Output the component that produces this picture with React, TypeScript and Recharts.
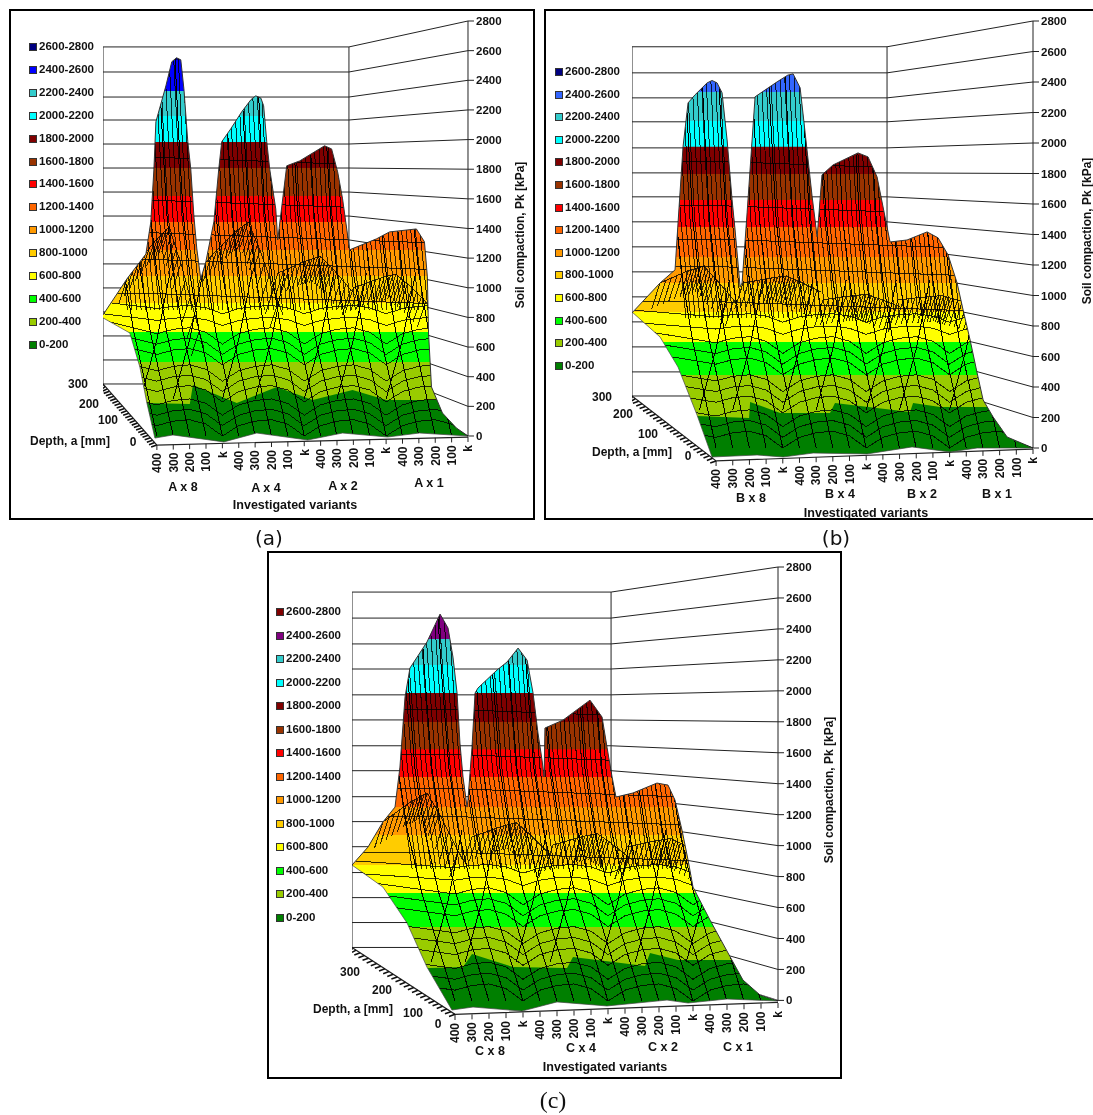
import { Area, ComposedChart, Line, XAxis, YAxis } from "recharts";

const FONT = "'Liberation Sans', Arial, sans-serif";

const tickLabels = ["400", "300", "200", "100", "k", "400", "300", "200", "100", "k", "400", "300", "200", "100", "k", "400", "300", "200", "100", "k"];
const tickPositions = [0, 1, 2, 3, 4, 5, 6, 7, 8, 9, 10, 11, 12, 13, 14, 15, 16, 17, 18, 19];
const pressureTicks = [0, 200, 400, 600, 800, 1000, 1200, 1400, 1600, 1800, 2000, 2200, 2400, 2600, 2800];
const bandNames = ["0-200", "200-400", "400-600", "600-800", "800-1000", "1000-1200", "1200-1400", "1400-1600", "1600-1800", "1800-2000", "2000-2200", "2200-2400", "2400-2600", "2600-2800"];
const baseColors = ["#007f00", "#99cc00", "#00ff00", "#ffff00", "#ffcc00", "#ff9900", "#ff6600", "#ff0000", "#993300", "#800000", "#00ffff", "#33cccc"];
const depthTicks = [0, 12, 24, 36, 48, 60, 72, 84, 96, 108, 120, 132, 144, 156, 168, 180, 192, 204, 216, 228, 240, 252, 264, 276, 288, 300];

// surface outline
const topPosA = [-3.29, -1.83, -0.67, -0.37, -0.18, -0.06, 0.55, 0.91, 1.2, 1.46, 1.65, 1.89, 2.07, 2.26, 2.44, 2.68, 2.99, 3.48, 3.78, 3.96, 4.51, 5.18, 5.75, 6.04, 6.35, 6.52, 6.71, 6.89, 7.26, 7.38, 7.93, 8.72, 10.24, 10.67, 11.04, 11.34, 11.77, 13.41, 14.21, 15.85, 16.34, 16.52, 16.59, 16.77, 17.44, 18.29, 19];
const topValA = [817, 1060, 1228, 1445, 1802, 2120, 2362, 2525, 2552, 2538, 2342, 1985, 1802, 1485, 1262, 1060, 1175, 1445, 1802, 1985, 2072, 2187, 2270, 2295, 2280, 2228, 1985, 1802, 1532, 1323, 1823, 1856, 1958, 1937, 1782, 1600, 1256, 1330, 1377, 1397, 1310, 1073, 695, 331, 155, 54, 0];
const basePosA = [-3.29, -1.65, -1.04, -0.61, -0.12, 0.98, 4.09, 6.1, 9.21, 11.34, 14.09, 16.04, 19];
const baseValA = [797, 695, 466, 223, -14, 7, -40, 20, -27, 20, -7, 20, 0];
const lowPosA = [-3.29, -0.61, 2.01, 2.2, 4.88, 7.32, 9.51, 11.95, 14.02, 17.26, 19];
const lowValA = [223, 223, 216, 344, 223, 331, 243, 310, 243, 243, 243];
const edgesA = [499, 702, 897, 1080, 1255, 1444, 1619, 1808, 1984, 2159, 2328, 2537, 2800];
const wallA = [351, 513, 675, 837, 999, 1161, 1323, 1484, 1646, 1808, 1970, 2132, 2287, 2456, 2625];
const ridgesA = [[-1.83, 1060, 1.9], [2.99, 1175, 1.45], [7.4, 1100, 0.6], [12, 1000, 0.5]];

// panel (b)
const topPosB = [-5.04, -3.36, -2.46, -2.28, -1.98, -1.68, -1.26, -0.54, -0.24, 0.06, 0.36, 0.66, 0.96, 1.14, 1.44, 1.56, 1.86, 2.16, 2.34, 3.66, 4.3, 4.62, 5.04, 5.34, 5.76, 6.06, 6.35, 7.01, 8.51, 9.11, 9.65, 10.13, 10.43, 11.45, 12.65, 13.31, 13.91, 14.45, 14.81, 15.23, 15.65, 16.01, 16.61, 17.45, 19];
const topValB = [886, 1082, 1168, 1476, 1975, 2263, 2316, 2394, 2410, 2394, 2329, 2020, 1627, 1430, 1056, 1082, 1542, 2020, 2303, 2401, 2445, 2453, 2362, 2066, 1647, 1384, 1791, 1856, 1935, 1909, 1778, 1515, 1351, 1364, 1417, 1378, 1266, 1082, 905, 708, 492, 315, 203, 72, 0];
const basePosB = [-5.04, -3.36, -2.28, -1.14, -0.24, 2.46, 4.02, 5.82, 9.05, 11.75, 14.03, 15.65, 19];
const baseValB = [892, 728, 531, 216, -59, -46, -59, -33, -39, 7, -26, 0, 0];
const lowPosB = [-5.04, -1.14, 1.98, 2.04, 3.84, 6.83, 7.13, 11.63, 11.81, 13.43, 16.25, 19];
const lowValB = [210, 210, 197, 302, 230, 230, 295, 236, 295, 269, 269, 269];
const edgesB = [479, 695, 892, 1082, 1253, 1450, 1627, 1797, 1975, 2145, 2335, 2600, 2800];
const wallB = [341, 499, 663, 827, 991, 1155, 1319, 1483, 1647, 1804, 1968, 2139, 2296, 2460, 2631];
const ridgesB = [[-3.36, 1082, 0.6], [1.62, 1082, 0.25], [6.41, 971, 0.2], [10.9, 971, 0.15]];

// panel (c)
const topPosC = [-6.06, -5.12, -4.24, -3.53, -3.24, -2.94, -2.65, -1.65, -0.88, -0.41, -0.12, 0.12, 0.29, 0.47, 0.71, 0.76, 1, 1.18, 1.35, 2.47, 3.06, 3.71, 4.24, 4.59, 4.88, 5.12, 5.24, 5.29, 6.35, 7.94, 8.65, 8.94, 9.24, 9.47, 10.47, 11.88, 12.53, 12.94, 13.35, 13.71, 14, 15, 16.06, 16.94, 17.94, 19];
const topValC = [877, 993, 1155, 1251, 1509, 1961, 2148, 2316, 2496, 2406, 2219, 1987, 1664, 1445, 1251, 1296, 1638, 1987, 2019, 2135, 2187, 2277, 2199, 1987, 1729, 1554, 1445, 1761, 1812, 1941, 1832, 1638, 1445, 1316, 1342, 1406, 1393, 1296, 1103, 909, 735, 522, 310, 135, 39, 0];
const basePosC = [-6.06, -4.24, -2.82, -1.65, -0.18, 1.06, 3.94, 6, 8.94, 12.47, 13.71, 16, 19];
const baseValC = [877, 735, 503, 219, -58, -39, -65, -6, -32, 6, -13, 13, 0];
const lowPosC = [-6.06, -1.47, 0.47, 1, 3.41, 6.59, 6.94, 11.18, 11.47, 13.12, 16.18, 19];
const lowValC = [213, 213, 219, 303, 219, 213, 284, 226, 310, 264, 264, 264];
const edgesC = [477, 697, 877, 1071, 1251, 1445, 1625, 1800, 1987, 2167, 2335, 2700, 2800];
const wallC = [342, 503, 664, 826, 993, 1155, 1316, 1484, 1645, 1812, 1974, 2141, 2303, 2470, 2638];
const ridgesC = [[-4.24, 1155, 1], [1, 1058, 0.5], [5.76, 1006, 0.4], [10.1, 993, 0.3]];

// wire mesh templates shared by the panels
const meshV = [0, 350, 700, 1100, 1500, 2100, 2800];
const meshDx = [0, -0.7, -1.4, -2, -2.4, -2.7, -3];
const hatchV = [850, 1500, 2100, 2800];
const hatchDx = [-1.8, -2.4, -2.7, -3];
const hatchSlots = [0, 0.28, 0.56, 0.84, 1.12, 1.4, 1.68, 1.96, 2.24, 2.52, 2.8, 3.08, 3.36, 3.64, 3.92, 4.2, 4.48, 4.76];
const crossV = [250, 650, 1100];
const crossDx = [0, 1, 1.8];
const rowLevels = [50, 120, 190, 280, 350, 420, 530, 600, 670, 770, 850, 960, 1190, 1370, 1590, 1880];
const rowWiggle = [20, 50, 60, 30, -50];
const ridgeDx = [0, 1.7, 2.6, 3.3, 4.7];
const ridgeRise = [0, 135, 186, 55, -246];

type Row = { x: number; v: number | null };

const gap = (x: number): Row => ({ x, v: null });

function lerpAt(xs: number[], ys: number[], x: number) {
  for (let i = 1; i < xs.length; i++) {
    if (x <= xs[i]) return ys[i - 1] + ((ys[i] - ys[i - 1]) * (x - xs[i - 1])) / (xs[i] - xs[i - 1]);
  }
  return ys[ys.length - 1];
}

function buildWire(lean: number, xMin: number, ridges: number[][]) {
  const cols: Row[] = [];
  const cross: Row[] = [];
  const rows: Row[] = [];
  const hatch: Row[] = [];
  const fans: Row[] = [];
  tickPositions.forEach((p) => {
    meshV.forEach((v, k) => cols.push({ x: Math.max(xMin, p + meshDx[k] * lean), v }));
    cols.push(gap(p));
    if ((p % 5 === 0 || p % 5 === 2) && p < 17) {
      crossV.forEach((v, k) => cross.push({ x: p + crossDx[k] - lean, v }));
      cross.push(gap(p));
    }
    if (p % 5 === 0) {
      hatchSlots.forEach((s) => {
        hatchV.forEach((v, k) => hatch.push({ x: Math.min(19, p + s + hatchDx[k] * lean), v }));
        hatch.push(gap(p));
      });
    }
  });
  rowLevels.forEach((level) => {
    const swing = level < 700 ? 1 : level < 900 ? 0.5 : 0;
    rows.push({ x: xMin, v: level + 110 * swing });
    tickPositions.forEach((p) => rows.push({ x: p, v: level + rowWiggle[p % 5] * swing - (swing ? 0 : p * 4) }));
    rows.push(gap(19));
  });
  ridges.forEach(([pos, val, scale]) => {
    ridgeDx.forEach((dx, k) => fans.push({ x: pos + dx, v: val + ridgeRise[k] * scale }));
    fans.push(gap(pos));
    for (let k = 0; k < ridgeDx.length - 1; k++) {
      [0, 0.2, 0.4, 0.6, 0.8].forEach((t) => {
        const x = pos + ridgeDx[k] + (ridgeDx[k + 1] - ridgeDx[k]) * t;
        const v = val + (ridgeRise[k] + (ridgeRise[k + 1] - ridgeRise[k]) * t) * scale;
        fans.push({ x, v });
        fans.push({ x: x - 0.5, v: v - 170 });
        fans.push(gap(x));
      });
    }
  });
  return { cols, cross, rows, hatch, fans };
}

const panels = [
  {
    box: { left: 9, top: 9, width: 526, height: 511 },
    plot: { x0: 103, x1: 468, yTop: 21, y0: 436 },
    xMin: -3.29,
    midPos: 11.73,
    floor: [-61, -7],
    floorPx: [445, 437],
    lean: 1,
    topPos: topPosA, topVal: topValA, basePos: basePosA, baseVal: baseValA,
    lowPos: lowPosA, lowVal: lowValA, edges: edgesA, wall: wallA, ridges: ridgesA,
    colors: [...baseColors, "#0000ff", "#000080"],
    legend: { x: 29, y: 47, step: 22.9 },
    title: { x: 520, y: 235 },
    axisName: { x: 295, y: 505 },
    depthName: { x: 110, y: 441 },
    depthLabels: [[133, 442, "0"], [108, 420, "100"], [89, 404, "200"], [78, 384, "300"]],
    groups: [[183, 487, "A x 8"], [266, 488, "A x 4"], [343, 486, "A x 2"], [429, 483, "A x 1"]],
  },
  {
    box: { left: 544, top: 9, width: 560, height: 511 },
    plot: { x0: 632, x1: 1033, yTop: 21, y0: 448 },
    xMin: -5.04,
    midPos: 10.25,
    floor: [-85, -7],
    floorPx: [461, 449],
    lean: 1,
    topPos: topPosB, topVal: topValB, basePos: basePosB, baseVal: baseValB,
    lowPos: lowPosB, lowVal: lowValB, edges: edgesB, wall: wallB, ridges: ridgesB,
    colors: [...baseColors, "#3366ff", "#000080"],
    legend: { x: 555, y: 72, step: 22.6 },
    title: { x: 1087, y: 231 },
    axisName: { x: 866, y: 513 },
    depthName: { x: 672, y: 452 },
    depthLabels: [[688, 456, "0"], [648, 434, "100"], [623, 414, "200"], [602, 397, "300"]],
    groups: [[751, 498, "B x 8"], [840, 494, "B x 4"], [922, 494, "B x 2"], [997, 494, "B x 1"]],
  },
  {
    box: { left: 267, top: 551, width: 575, height: 528 },
    plot: { x0: 352, x1: 778, yTop: 567, y0: 1001 },
    xMin: -6.06,
    midPos: 9.18,
    floor: [-90, -13],
    floorPx: [1015, 1003],
    lean: 1.4,
    topPos: topPosC, topVal: topValC, basePos: basePosC, baseVal: baseValC,
    lowPos: lowPosC, lowVal: lowValC, edges: edgesC, wall: wallC, ridges: ridgesC,
    colors: [...baseColors, "#800080", "#800000"],
    legend: { x: 276, y: 612, step: 23.5 },
    title: { x: 829, y: 790 },
    axisName: { x: 605, y: 1067 },
    depthName: { x: 393, y: 1009 },
    depthLabels: [[438, 1024, "0"], [413, 1013, "100"], [382, 990, "200"], [350, 972, "300"]],
    groups: [[490, 1051, "C x 8"], [581, 1048, "C x 4"], [663, 1047, "C x 2"], [738, 1047, "C x 1"]],
  },
];

type Panel = (typeof panels)[number];

function Txt({ x, y, children, size = 11, anchor = "middle", rotate = 0, family = FONT, weight = 700 }: any) {
  const shift = anchor === "end" ? "-100%" : anchor === "start" ? "0" : "-50%";
  return (
    <div
      style={{
        position: "absolute",
        left: x,
        top: y,
        transform: `translate(${shift}, -50%) rotate(${rotate}deg)`,
        fontFamily: family,
        fontSize: size,
        fontWeight: weight,
        color: "#111",
        whiteSpace: "nowrap",
        lineHeight: 1,
      }}
    >
      {children}
    </div>
  );
}

const VariantTick = ({ x, index, floorPx, yTop, color }: any) => {
  const t = index / 19;
  const y = floorPx[0] + (floorPx[1] - floorPx[0]) * t - (yTop - 10);
  return (
    <g transform={`translate(${x},${y})`}>
      <line y2={5} stroke={color} />
      <text transform="rotate(-90)" x={-8} dy="0.36em" textAnchor="end" fontSize={12} fontWeight={700} fontFamily={FONT} fill="#111">
        {tickLabels[index]}
      </text>
    </g>
  );
};

function lineProps(stroke: string, strokeWidth: number, zIndex: number, extra: any = {}) {
  return { dataKey: "v", stroke, strokeWidth, dot: false, activeDot: false, isAnimationActive: false, zIndex, ...extra } as any;
}

const crisp = { shapeRendering: "crispEdges" };

function SurfaceChart({ p }: { p: Panel }) {
  const { plot, xMin } = p;
  const plotH = ((plot.y0 - plot.yTop) * 2900) / 2800;
  const width = plot.x1 - plot.x0 + 40;
  const height = plotH + 10 + 60;
  const frameStyle = { position: "absolute", left: plot.x0, top: plot.yTop - 10 } as const;

  const xAxisDomain: [number, number] = [xMin, 19];
  const yAxisDomain: [number, number] = [-100, 2800];

  const wallRows: Row[] = [];
  p.wall.forEach((w, i) => {
    wallRows.push({ x: xMin, v: w }, { x: p.midPos, v: w }, { x: 19, v: pressureTicks[i] }, gap(19));
  });
  const w0 = p.wall[0];
  const w14 = p.wall[14];
  wallRows.push({ x: xMin, v: w0 }, { x: xMin, v: w14 }, gap(xMin));
  wallRows.push({ x: p.midPos, v: w0 }, { x: p.midPos, v: w14 }, gap(p.midPos));
  wallRows.push({ x: 19, v: 0 }, { x: 19, v: 2800 }, gap(19));

  const floorRows: Row[] = [{ x: xMin, v: w0 }, { x: 0, v: p.floor[0] }, { x: 19, v: p.floor[1] }, gap(19)];
  const tickRows: Row[] = [];
  depthTicks.forEach((d) => {
    const t = d / 300;
    const x = xMin * t;
    const v = p.floor[0] + (w0 - p.floor[0]) * t;
    tickRows.push({ x, v }, { x: Math.max(xMin, x - 0.35), v: v - 14 }, gap(x));
  });

  const mergedX = Array.from(new Set([...p.topPos, ...p.basePos])).sort((a, b) => a - b);
  const maskRows = mergedX.map((x) => ({ x, r: [lerpAt(p.basePos, p.baseVal, x), lerpAt(p.topPos, p.topVal, x)] }));

  const topRows = p.topPos.map((x, i) => ({ x, v: p.topVal[i] }));
  const baseRows = p.basePos.map((x, i) => ({ x, v: p.baseVal[i] }));
  const topCover = p.topPos.map((x, i) => ({ x, r: [p.topVal[i], 2800] }));
  const baseCover = p.basePos.map((x, i) => ({ x, r: [-100, p.baseVal[i]] }));
  const lowRows = p.lowPos.map((x, i) => ({ x, r: [-70, p.lowVal[i]] }));
  const wire = buildWire(p.lean, xMin, p.ridges);

  return (
    <>
      <div style={frameStyle}>
        <ComposedChart width={width} height={height} margin={{ top: 10, left: 0, right: 0, bottom: 0 }}>
          <XAxis
            type="number"
            dataKey="x"
            domain={xAxisDomain}
            ticks={tickPositions}
            interval={0}
            height={60}
            axisLine={false}
            tickLine={false}
            tickSize={0}
            tickMargin={0}
            tick={(props: any) => <VariantTick {...props} floorPx={p.floorPx} yTop={plot.yTop} color="#222" />}
          />
          <YAxis
            type="number"
            orientation="right"
            domain={yAxisDomain}
            ticks={pressureTicks}
            interval={0}
            width={40}
            axisLine={false}
            tickSize={6}
            tickMargin={2}
            tickLine={{ stroke: "#222" }}
            tick={{ fontSize: 11.5, fontWeight: 700, fontFamily: FONT, fill: "#111" }}
          />
          <Line data={wallRows} {...lineProps("#222", 1, 110)} />
          <Line data={floorRows} {...lineProps("#222", 1.2, 110)} />
          <Line data={tickRows} {...lineProps("#111", 1.6, 110)} />
          <Area data={maskRows} dataKey="r" type="linear" stroke="none" fill="#fff" fillOpacity={1} dot={false} activeDot={false} isAnimationActive={false} zIndex={120} />
        </ComposedChart>
      </div>
      <div style={{ ...frameStyle, mixBlendMode: "multiply" }}>
        <ComposedChart width={width} height={height} margin={{ top: 10, left: 0, right: 40, bottom: 60 }}>
          <XAxis type="number" dataKey="x" domain={xAxisDomain} hide />
          <YAxis type="number" domain={yAxisDomain} hide />
          {p.edges
            .map((edge, i) => ({ edge, color: p.colors[i + 1], i }))
            .reverse()
            .map(({ edge, color, i }) => (
              <Area
                key={i}
                data={[{ x: xMin, r: [-70, edge] }, { x: 19, r: [-70, edge] }]}
                dataKey="r"
                type="linear"
                stroke="none"
                fill={color}
                fillOpacity={1}
                dot={false}
                activeDot={false}
                isAnimationActive={false}
                zIndex={100 + (13 - i)}
              />
            ))}
          <Area data={lowRows} dataKey="r" type="linear" stroke="none" fill={p.colors[0]} fillOpacity={1} dot={false} activeDot={false} isAnimationActive={false} zIndex={115} />
          <Line data={wire.hatch} {...lineProps("#000", 1, 120, { strokeOpacity: 0.8, ...crisp })} />
          <Line data={wire.fans} {...lineProps("#000", 1, 121, { strokeOpacity: 0.8, ...crisp })} />
          <Line data={wire.cols} {...lineProps("#000", 1, 122, crisp)} />
          <Line data={wire.cross} {...lineProps("#000", 1, 123, crisp)} />
          <Line data={wire.rows} {...lineProps("#000", 1, 124, { strokeOpacity: 0.8, ...crisp })} />
          <Area data={topCover} dataKey="r" type="linear" stroke="none" fill="#fff" fillOpacity={1} dot={false} activeDot={false} isAnimationActive={false} zIndex={130} />
          <Area data={baseCover} dataKey="r" type="linear" stroke="none" fill="#fff" fillOpacity={1} dot={false} activeDot={false} isAnimationActive={false} zIndex={131} />
          <Line data={topRows} {...lineProps("#333", 1, 140)} />
          <Line data={baseRows} {...lineProps("#444", 0.7, 141)} />
        </ComposedChart>
      </div>
    </>
  );
}

function PanelView({ p }: { p: Panel }) {
  return (
    <>
      <div
        style={{
          position: "absolute",
          left: p.box.left,
          top: p.box.top,
          width: p.box.width,
          height: p.box.height,
          border: "2px solid #000",
          boxSizing: "border-box",
        }}
      />
      <SurfaceChart p={p} />
      {bandNames
        .map((name, i) => ({ name, color: p.colors[i] }))
        .reverse()
        .map(({ name, color }, i) => {
          const y = p.legend.y + i * p.legend.step;
          return (
            <div key={name}>
              <div
                style={{
                  position: "absolute",
                  left: p.legend.x,
                  top: y - 4,
                  width: 6,
                  height: 6,
                  background: color,
                  border: "1px solid #333",
                  boxSizing: "content-box",
                }}
              />
              <Txt x={p.legend.x + 10} y={y} anchor="start" size={11.5}>
                {name}
              </Txt>
            </div>
          );
        })}
      {p.depthLabels.map(([x, y, label]) => (
        <Txt key={label as string} x={x} y={y} size={12}>
          {label}
        </Txt>
      ))}
      <Txt x={p.depthName.x} y={p.depthName.y} anchor="end" size={12}>
        Depth, a [mm]
      </Txt>
      {p.groups.map(([x, y, label]) => (
        <Txt key={label as string} x={x} y={y} size={12.5}>
          {label}
        </Txt>
      ))}
      <Txt x={p.axisName.x} y={p.axisName.y} size={12.5}>
        Investigated variants
      </Txt>
      <Txt x={p.title.x} y={p.title.y} size={12} rotate={-90}>
        Soil compaction, Pk [kPa]
      </Txt>
    </>
  );
}

export default function App() {
  return (
    <div style={{ position: "absolute", left: 0, top: 0, width: 1093, height: 1115, background: "#fff", overflow: "hidden" }}>
      {panels.map((p, i) => (
        <PanelView key={i} p={p} />
      ))}
      <Txt x={269} y={538} size={20} weight={400} family="'DejaVu Sans', sans-serif">
        (a)
      </Txt>
      <Txt x={836} y={538} size={20} weight={400} family="'DejaVu Sans', sans-serif">
        (b)
      </Txt>
      <Txt x={553} y={1100} size={24} weight={400} family="'Liberation Serif', serif">
        (c)
      </Txt>
    </div>
  );
}
